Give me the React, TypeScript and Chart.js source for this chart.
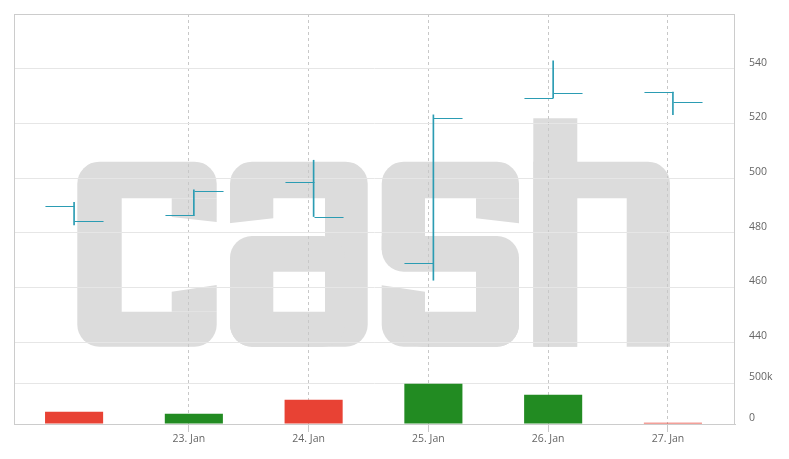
import React, { useEffect, useRef } from "react";
import { Chart, registerables } from "chart.js";

Chart.register(...registerables);

// ---------- data ----------
const days = [22, 23, 24, 25, 26, 27];
const monthName = "Jan";
const dataHour = 1; // quotes stamped 01:00, ticks at midnight
const openP = [489.9, 486.3, 498.5, 469.0, 529.4, 531.4];
const highP = [491.1, 495.7, 506.5, 523.1, 542.9, 531.4];
const lowP = [482.8, 486.3, 485.9, 462.6, 529.4, 523.2];
const closeP = [484.1, 495.1, 485.9, 522.0, 531.1, 527.8];
const volume = [150000, 126000, 296000, 491000, 357000, 15000];
const tickDays = [23, 24, 25, 26, 27];
const priceMin = 440;
const priceMax = 560;
const priceStep = 20;
const volMax = 1000000;
const volStep = 500000;
const xMin = 21.54;
const xMax = 27.56;

// ---------- styles ----------
const OHLC_COLOR = "#2b9cb3";
const UP_COLOR = "#228b22";
const DOWN_COLOR = "#e84234";
const WM_COLOR = "#dcdcdc";
const LABEL_COLOR = "#666666";
const FONT = { family: "'Open Sans', sans-serif", size: 10.5 };

const xVals = days.map((d) => d + dataHour / 24);

// watermark "cash" logo, drawn behind the grid
const watermarkPlugin = {
  id: "watermark",
  beforeDraw(chart: any) {
    const { ctx, chartArea } = chart;
    const ox = chartArea.left - 14;
    const oy = chartArea.top - 14;
    const r = 22;
    const P = (x: number, y: number): [number, number] => [ox + x, oy + y];
    const rr = (x1: number, y1: number, x2: number, y2: number, rad: any, col: string) => {
      const [a, b] = P(x1, y1);
      ctx.beginPath();
      ctx.fillStyle = col;
      ctx.roundRect(a, b, x2 - x1, y2 - y1, rad);
      ctx.fill();
    };
    const poly = (pts: number[][], col: string) => {
      ctx.beginPath();
      ctx.fillStyle = col;
      pts.forEach((p, i) => {
        const [a, b] = P(p[0], p[1]);
        if (i === 0) ctx.moveTo(a, b);
        else ctx.lineTo(a, b);
      });
      ctx.closePath();
      ctx.fill();
    };
    const W = "#ffffff";
    const G = WM_COLOR;
    ctx.save();
    // c
    rr(77.3, 161.7, 216.7, 346.7, r, G);
    rr(121.7, 198.3, 218, 311.7, 0, W);
    poly([[171.7, 198.3], [216.7, 198.3], [216.7, 222], [171.7, 217]], G);
    poly([[171.7, 291.7], [216.7, 285], [216.7, 311.7], [171.7, 311.7]], G);
    // a
    rr(230, 161.7, 367.7, 346.7, r, G);
    poly([[273.3, 198.3], [325, 198.3], [325, 258], [229, 258], [229, 223.3], [273.3, 218.3]], W);
    rr(230, 236, 345, 346.7, r, G);
    rr(273.3, 271.7, 325, 311.7, 0, W);
    // s
    rr(381.7, 161.7, 519, 346.7, r, G);
    rr(425, 198.3, 520, 258, 0, W);
    poly([[476, 198.3], [519, 198.3], [519, 223.3], [476, 218.3]], G);
    rr(400, 236, 519, 346.7, r, G);
    poly([[380, 250], [425, 250], [425, 291.7], [380, 285]], W);
    rr(381.7, 236, 425, 271.7, [0, 0, 0, r], G);
    rr(425, 271.7, 476, 311.7, 0, W);
    // h
    rr(533.3, 118.3, 577.3, 346.7, 0, G);
    rr(533.3, 161.7, 670, 346.7, [0, r, 0, 0], G);
    rr(577.3, 198.3, 626.7, 347, 0, W);
    ctx.restore();
  },
};

// plot border + open/close ticks
const ohlcPlugin = {
  id: "ohlcTicks",
  afterDatasetsDraw(chart: any) {
    const { ctx, chartArea } = chart;
    const yScale = chart.scales.y;
    const rangeMeta = chart.getDatasetMeta(0);
    const volMeta = chart.getDatasetMeta(1);
    ctx.save();
    ctx.strokeStyle = OHLC_COLOR;
    ctx.lineWidth = 1;
    rangeMeta.data.forEach((el: any, i: number) => {
      const x = Math.round(el.x) + 0.5;
      const half = volMeta.data[i].width / 2;
      const yo = Math.round(yScale.getPixelForValue(openP[i])) + 0.5;
      const yc = Math.round(yScale.getPixelForValue(closeP[i])) + 0.5;
      ctx.beginPath();
      ctx.moveTo(x - half, yo);
      ctx.lineTo(x, yo);
      ctx.moveTo(x, yc);
      ctx.lineTo(x + half, yc);
      ctx.stroke();
    });
    ctx.strokeStyle = "#cccccc";
    ctx.strokeRect(
      chartArea.left + 0.5,
      chartArea.top + 0.5,
      chartArea.right - chartArea.left - 1,
      chartArea.bottom - chartArea.top
    );
    ctx.restore();
  },
};

const noPadV = (s: any, w: number) => {
  s.width = w;
  s.paddingTop = 0;
  s.paddingBottom = 0;
};

export default function App() {
  const ref = useRef<HTMLCanvasElement>(null);

  useEffect(() => {
    if (!ref.current) return;
    const chart = new Chart(ref.current, {
      type: "bar",
      data: {
        datasets: [
          {
            type: "bar",
            label: "Range",
            data: xVals.map((x, i) => ({ x, y: [lowP[i], highP[i]] })) as any,
            yAxisID: "y",
            xAxisID: "x",
            backgroundColor: OHLC_COLOR,
            barThickness: 1,
            grouped: false,
            order: 0,
          } as any,
          {
            type: "bar",
            label: "Volume",
            data: xVals.map((x, i) => ({ x, y: volume[i] })) as any,
            yAxisID: "yVol",
            xAxisID: "x",
            backgroundColor: volume.map((_, i) => (closeP[i] >= openP[i] ? UP_COLOR : DOWN_COLOR)),
            categoryPercentage: 1,
            barPercentage: 0.485,
            grouped: false,
            order: 1,
          } as any,
        ],
      },
      options: {
        animation: false,
        responsive: true,
        maintainAspectRatio: false,
        layout: { padding: { left: 6, top: 6, right: 0, bottom: 0 } },
        plugins: { legend: { display: false }, tooltip: { enabled: false } },
        scales: {
          x: {
            type: "linear",
            min: xMin,
            max: xMax,
            offset: false,
            grid: {
              offset: false,
              color: "#c8c8c8",
              tickLength: 8,
              tickColor: "#c8c8c8",
            },
            border: { color: "#cccccc", dash: [3, 3] },
            ticks: {
              color: LABEL_COLOR,
              font: FONT,
              padding: 1,
              maxRotation: 0,
              callback: (v: any) => `${Math.round(Number(v))}. ${monthName}`,
            },
            afterBuildTicks: (s: any) => {
              s.ticks = tickDays.map((v) => ({ value: v }));
            },
            afterFit: (s: any) => {
              s.height = 27;
              s.paddingLeft = 0;
              s.paddingRight = 0;
            },
          } as any,
          y: {
            type: "linear",
            position: "right",
            stack: "panes",
            stackWeight: 4,
            min: priceMin,
            max: priceMax,
            grid: { color: "#e6e6e6", drawTicks: false },
            border: { display: false },
            ticks: {
              stepSize: priceStep,
              padding: 14,
              labelOffset: -6,
              color: LABEL_COLOR,
              font: FONT,
              callback: (v: any) => (Number(v) >= priceMax ? "" : String(v)),
            },
            afterFit: (s: any) => noPadV(s, 46),
          } as any,
          yVol: {
            type: "linear",
            position: "right",
            stack: "panes",
            stackWeight: 1,
            min: 0,
            max: volMax,
            grid: { color: "#e6e6e6", drawTicks: false },
            border: { display: false },
            ticks: {
              stepSize: volStep,
              padding: 14,
              labelOffset: -6,
              color: LABEL_COLOR,
              font: FONT,
              callback: (v: any) => {
                const n = Number(v);
                if (n >= volMax) return "";
                return n === 0 ? "0" : `${n / 1000}k`;
              },
            },
            afterFit: (s: any) => noPadV(s, 46),
          } as any,
        },
      },
      plugins: [watermarkPlugin, ohlcPlugin],
    });
    return () => chart.destroy();
  }, []);

  return (
    <div style={{ width: 773, height: 443, position: "relative" }}>
      <canvas ref={ref} />
    </div>
  );
}
